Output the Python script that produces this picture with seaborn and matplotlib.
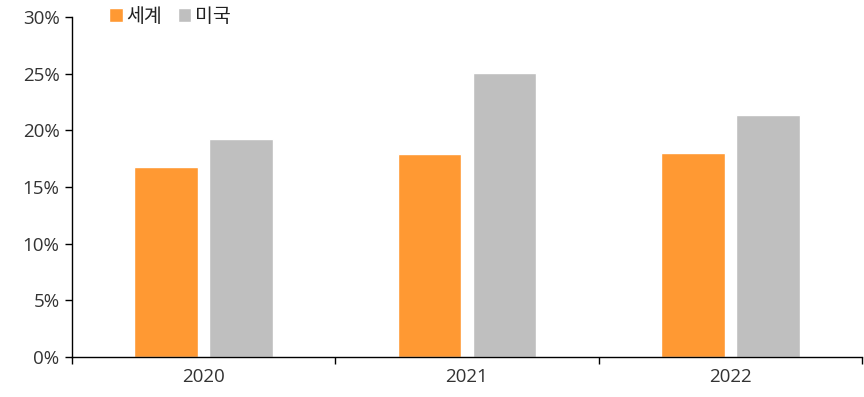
import pandas as pd
import matplotlib.pyplot as plt
import seaborn as sns
from matplotlib.ticker import FixedLocator, PercentFormatter

sns.set_theme(style="white")
plt.rcParams['font.family'] = ['Open Sans', 'Noto Sans CJK KR', 'DejaVu Sans']

# Data
years = ["2020", "2021", "2022"]
world = [16.8, 17.9, 18.0]
usa = [19.2, 25.1, 21.4]
series_names = ["세계", "미국"]
colors = ["#FF9933", "#BFBFBF"]

df = pd.DataFrame({
    "year": years * 2,
    "value": world + usa,
    "series": [series_names[0]] * 3 + [series_names[1]] * 3,
})

fig = plt.figure(figsize=(8.64, 3.97), dpi=100)
ax = fig.add_axes([0.0833, 0.1008, 0.9144, 0.8562])

sns.barplot(data=df, x="year", y="value", hue="series", palette=colors,
            width=0.57, gap=0.155, saturation=1, ax=ax)

ax.set_ylim(0, 30)
ax.set_xlim(-0.5, 2.5)
ax.set_yticks(range(0, 31, 5))
ax.yaxis.set_major_formatter(PercentFormatter(decimals=0))
ax.set_xlabel("")
ax.set_ylabel("")

# ticks between categories
ax.tick_params(axis="x", which="major", length=0, pad=8, labelsize=13.5, labelcolor="#333333")
ax.xaxis.set_minor_locator(FixedLocator([-0.5, 0.5, 1.5, 2.5]))
ax.tick_params(axis="x", which="minor", length=5, width=1, color="black", bottom=True)
ax.tick_params(axis="y", length=5, width=1, color="black", left=True, labelsize=13.5,
               labelcolor="#333333", pad=4)

for s in ["top", "right"]:
    ax.spines[s].set_visible(False)
for s in ["left", "bottom"]:
    ax.spines[s].set_color("black")
    ax.spines[s].set_linewidth(1)

ax.legend(loc="center left", bbox_to_anchor=(0.037, 1.0), ncol=2, frameon=False,
          handlelength=0.7, handleheight=0.7, handletextpad=0.2, columnspacing=0.8,
          fontsize=14, borderaxespad=0, labelcolor="#222222")

fig.savefig("out.png", dpi=100)
